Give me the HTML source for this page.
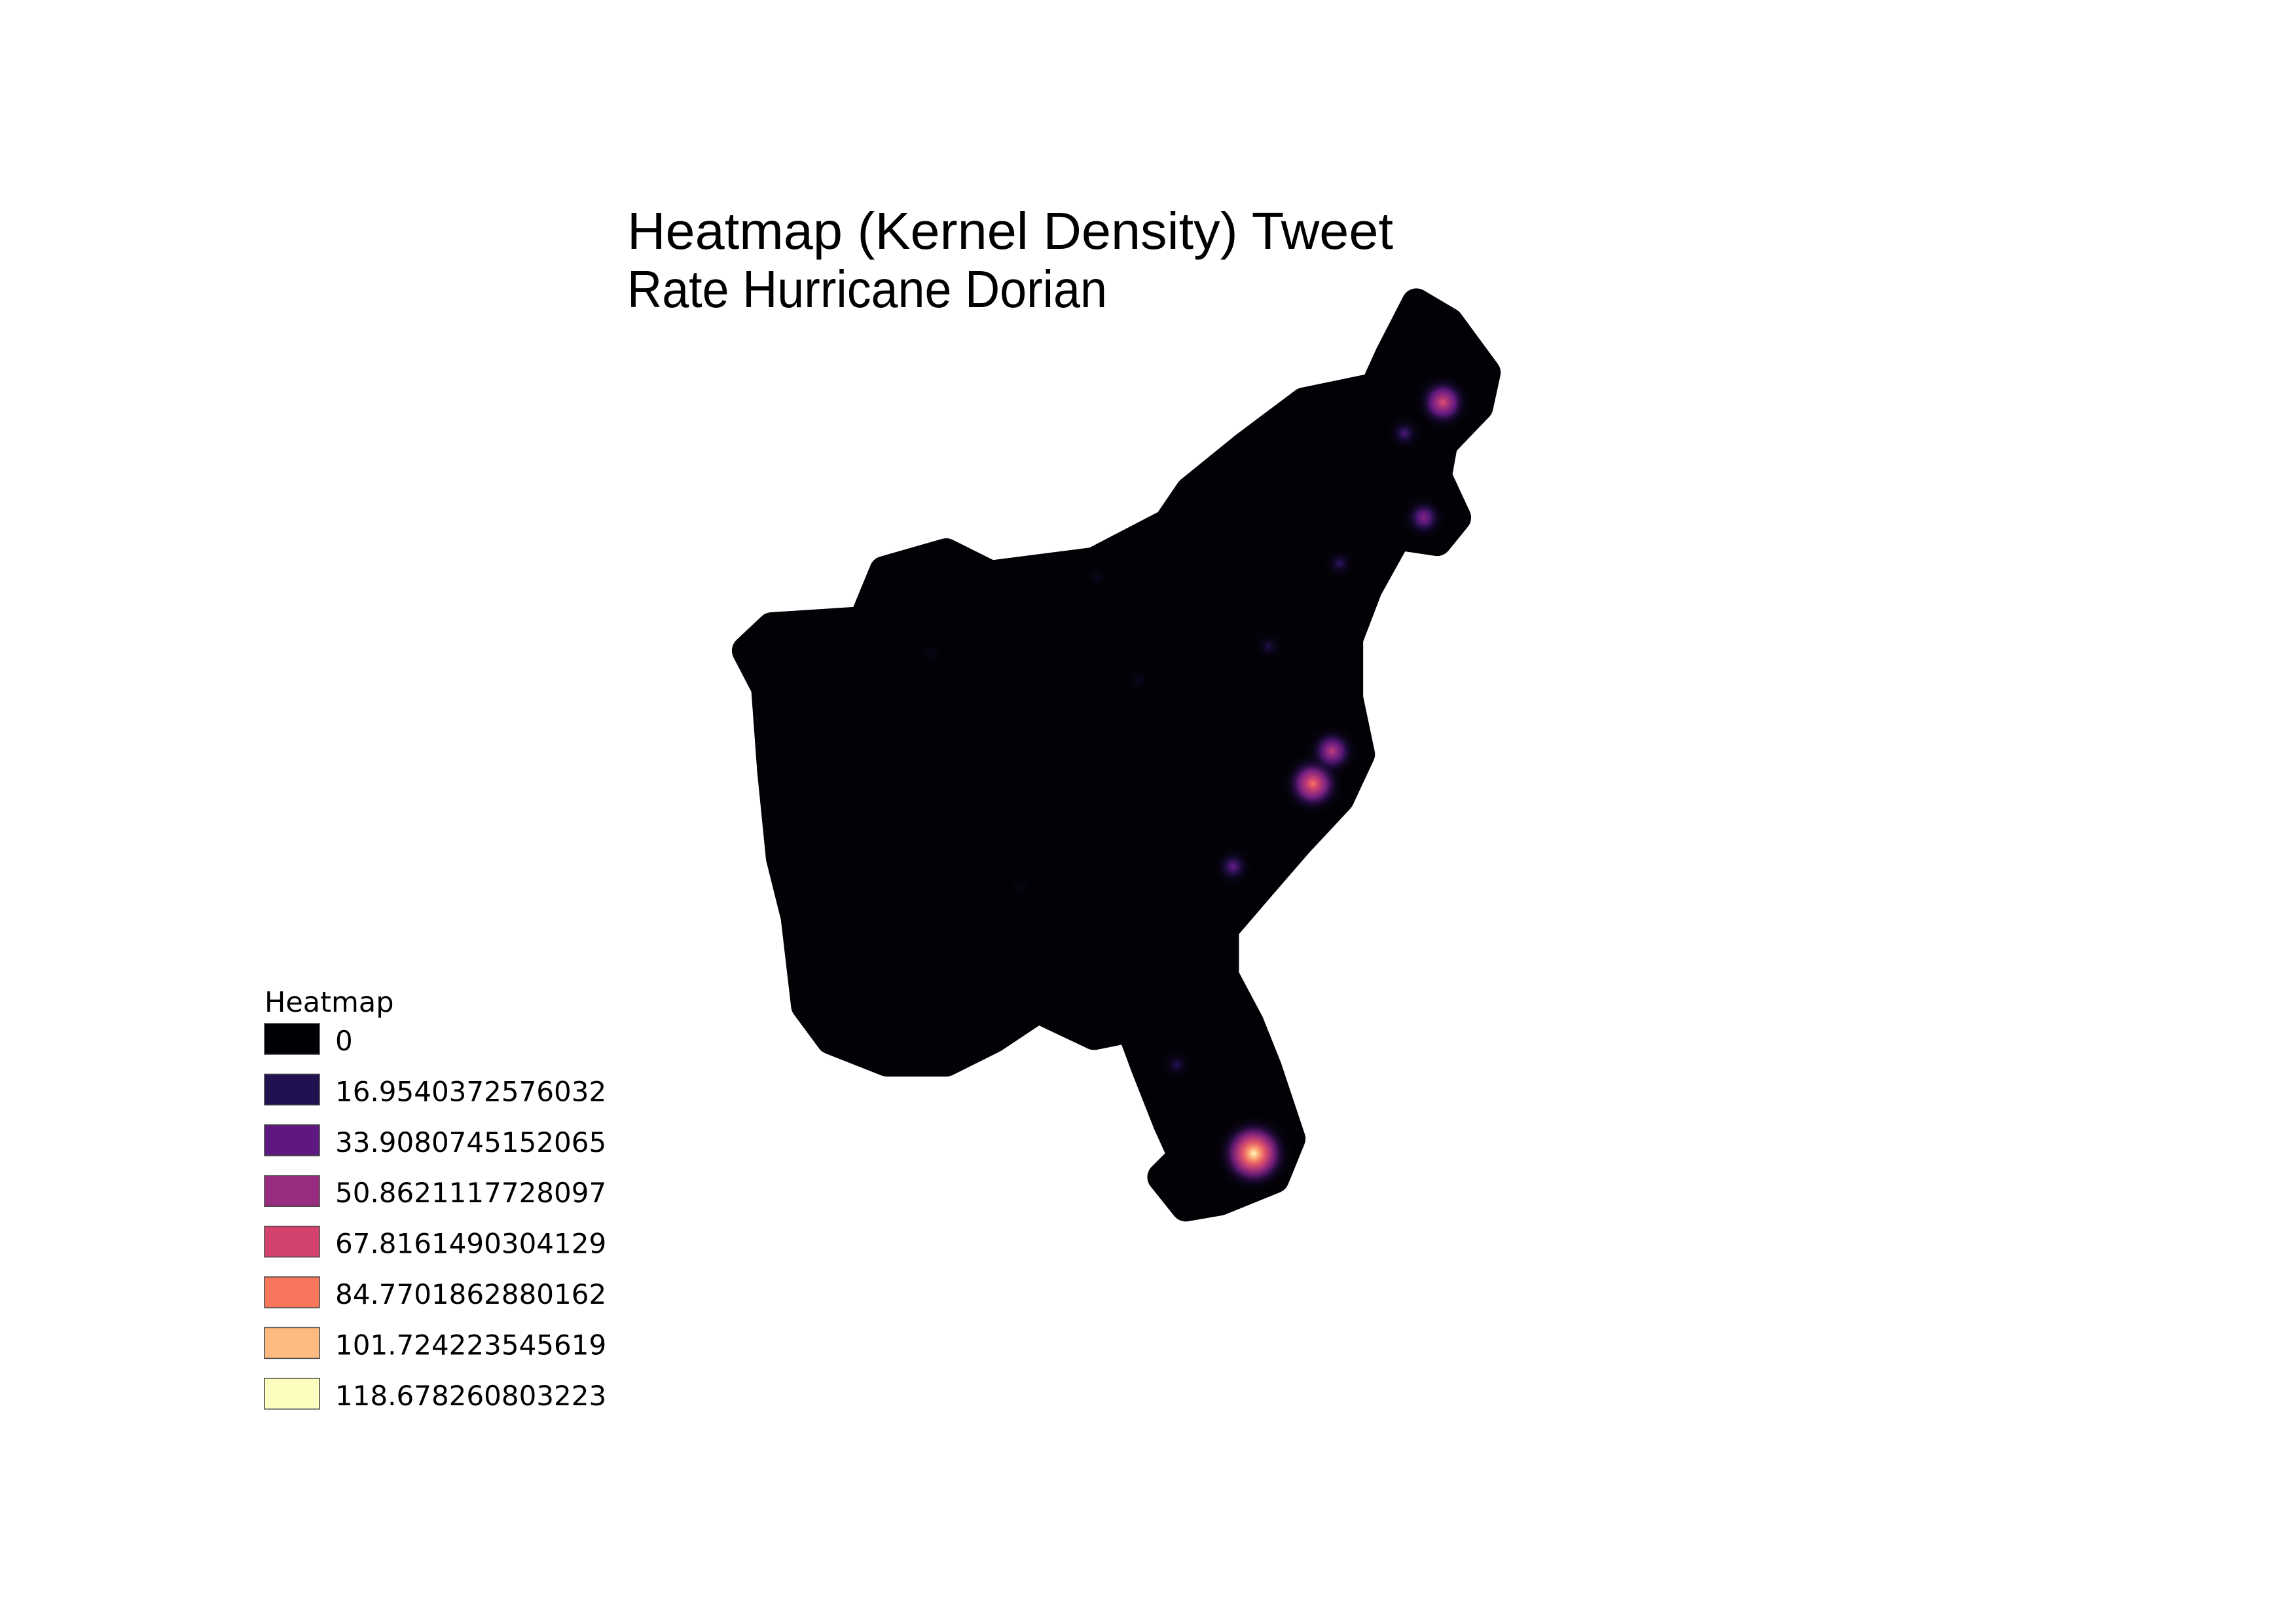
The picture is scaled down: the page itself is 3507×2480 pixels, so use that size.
<!DOCTYPE html>
<html><head><meta charset="utf-8"><style>
html,body{margin:0;padding:0;background:#fff;}
svg{display:block;}
</style></head><body>
<svg id="chart" width="3507" height="2480" viewBox="0 0 3507 2480" xmlns="http://www.w3.org/2000/svg">
<rect width="3507" height="2480" fill="#fff"/>
<defs></defs>
<g id="title" font-family="'Liberation Sans', sans-serif" font-size="80" fill="#000">
<text x="958" y="380" textLength="1170" lengthAdjust="spacingAndGlyphs">Heatmap  (Kernel  Density)  Tweet</text>
<text x="958" y="469" textLength="733" lengthAdjust="spacingAndGlyphs">Rate Hurricane Dorian</text>
</g>
<g id="map" transform="scale(2.2583)"></g>
<g id="legend" font-family="'DejaVu Sans', sans-serif" fill="#000">
<text x="404" y="1545" font-size="43">Heatmap</text>
</g>
</svg>
<script>
const legendValues = ["0","16.9540372576032","33.9080745152065","50.8621117728097","67.8161490304129","84.7701862880162","101.724223545619","118.678260803223"];
const legendColors = ["#000004","#221150","#5f187f","#982d80","#d3436e","#f8765c","#febb81","#fcfdbf"];
const hotX = [848, 888, 901, 976, 963, 834, 906, 858, 796, 950, 742, 630, 690, 770];
const hotY = [780, 530, 508, 272, 350, 586, 381, 437, 720, 293, 390, 442, 600, 460];
const hotV = [118, 85, 62, 72, 45, 35, 22, 18, 20, 28, 10, 8, 8, 10];
const outline = [[940,240],[958,205],[980,218],[1005,252],[1000,275],[976,300],[972,322],[985,350],[972,366],[945,362],[925,398],[912,432],[912,472],[920,510],[906,540],[878,570],[852,600],[828,628],[828,660],[845,692],[857,722],[873,770],[862,797],[825,812],[802,816],[786,796],[800,782],[790,760],[775,722],[765,695],[740,700],[702,682],[672,702],[640,718],[600,718],[562,703],[545,680],[538,620],[528,580],[522,520],[518,465],[505,440],[522,424],[584,420],[598,386],[640,374],[670,389],[740,380],[790,354],[805,332],[842,302],[882,272],[930,262]];
const NS='http://www.w3.org/2000/svg';
const vmax = 118.678260803223;
function colorAt(v){const t=Math.max(0,Math.min(1,v/vmax))*(legendColors.length-1);const i=Math.min(legendColors.length-2,Math.floor(t));const f=t-i;
 const a=legendColors[i],b=legendColors[i+1];const p=k=>parseInt(a.substr(k,2),16)*(1-f)+parseInt(b.substr(k,2),16)*f;
 return 'rgb('+[1,3,5].map(p).map(Math.round).join(',')+')';}
const map=document.getElementById('map');
const defs=document.querySelector('defs');
const poly=document.createElementNS(NS,'polygon');
poly.setAttribute('points',outline.map(p=>p.join(',')).join(' '));
poly.setAttribute('fill','#030106');poly.setAttribute('stroke','#030106');poly.setAttribute('stroke-width','20');poly.setAttribute('stroke-linejoin','round');


map.appendChild(poly);
hotX.forEach((x,i)=>{
 const v=hotV[i];const g=document.createElementNS(NS,'radialGradient');g.id='hg'+i;
 const steps=8;
 for(let s=0;s<=steps;s++){const st=document.createElementNS(NS,'stop');const f=s/steps;const val=v*Math.pow(1-f,1.6);
  st.setAttribute('offset',f);st.setAttribute('stop-color',colorAt(val));st.setAttribute('stop-opacity',s===steps?0:Math.min(1,(0.2+val/25)*(1-f)));g.appendChild(st);}
 defs.appendChild(g);
 const c=document.createElementNS(NS,'circle');
 c.setAttribute('cx',x);c.setAttribute('cy',hotY[i]);c.setAttribute('r',12+v*0.15);c.setAttribute('fill','url(#hg'+i+')');
 
 
 map.appendChild(c);
});
const leg=document.getElementById('legend');
legendValues.forEach((lab,i)=>{
 const y=1563+i*77.4;
 const r=document.createElementNS(NS,'rect');
 r.setAttribute('x',404);r.setAttribute('y',y);r.setAttribute('width',84);r.setAttribute('height',47);
 r.setAttribute('fill',legendColors[i]);r.setAttribute('stroke','#444');r.setAttribute('stroke-width','1.5');
 
 
 leg.appendChild(r);
 const t=document.createElementNS(NS,'text');
 t.setAttribute('x',512);t.setAttribute('y',y+41);t.setAttribute('font-size','42');t.textContent=lab;
 
 
 leg.appendChild(t);
});
</script>
</body></html>
